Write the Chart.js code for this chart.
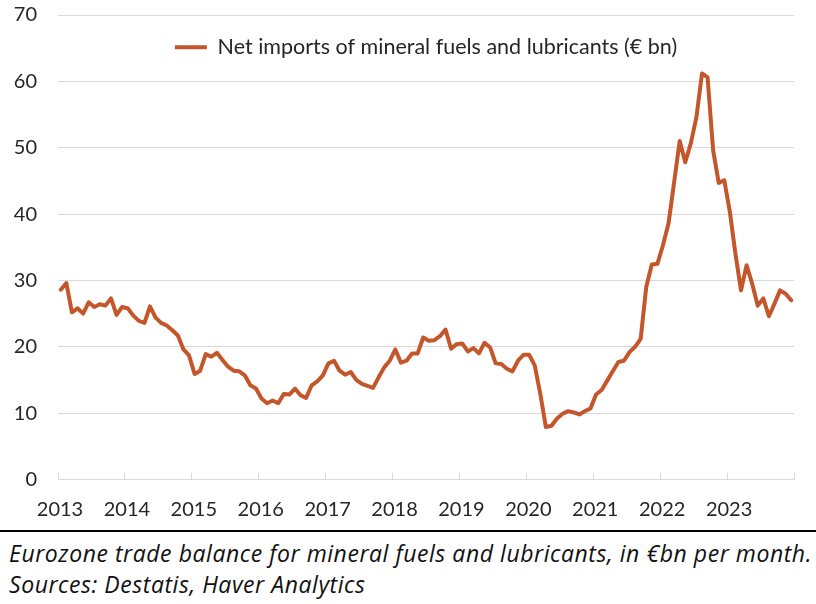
<!DOCTYPE html>
<html>
<head>
<meta charset="utf-8">
<script src="https://cdn.jsdelivr.net/npm/chart.js@4.4.1/dist/chart.umd.min.js"></script>
<style>
  html, body { margin: 0; padding: 0; background: #ffffff; }
  #wrap { position: relative; width: 816px; height: 604px; overflow: hidden; }
  #chart { position: absolute; left: 0; top: 0; }
  #rule { position: absolute; left: 0; top: 530px; width: 816px; height: 0; border-top: 2px solid #000; }
  .cap { position: absolute; left: 9px; font-family: "Open Sans", sans-serif; font-style: italic; font-size: 23px; letter-spacing: 0.55px; color: #111; white-space: nowrap; line-height: 1; }
</style>
</head>
<body>
<div id="wrap">
  <canvas id="chart" width="816" height="520"></canvas>
  <div id="rule"></div>
  <div class="cap" id="cap1" style="top:541.5px;">Eurozone trade balance for mineral fuels and lubricants, in €bn per month.</div>
  <div class="cap" id="cap2" style="top:572.5px;">Sources: Destatis, Haver Analytics</div>
</div>
<script>
// ---- Data ----
const seriesName = 'Net imports of mineral fuels and lubricants (€ bn)';
const yearLabels = ['2013','2014','2015','2016','2017','2018','2019','2020','2021','2022','2023'];
const values2013 = [28.6, 29.6, 25.2, 25.8, 25.0, 26.7, 26.0, 26.4, 26.2, 27.3, 24.8, 26.0];
const values2014 = [25.8, 24.7, 23.9, 23.6, 26.1, 24.4, 23.6, 23.2, 22.5, 21.7, 19.6, 18.7];
const values2015 = [15.9, 16.4, 18.9, 18.5, 19.1, 18.0, 17.0, 16.4, 16.3, 15.7, 14.2, 13.7];
const values2016 = [12.2, 11.5, 11.9, 11.5, 12.9, 12.8, 13.7, 12.7, 12.3, 14.2, 14.8, 15.7];
const values2017 = [17.5, 17.9, 16.4, 15.8, 16.2, 15.0, 14.4, 14.1, 13.8, 15.4, 16.9, 17.9];
const values2018 = [19.6, 17.6, 17.9, 19.0, 19.0, 21.4, 20.9, 21.0, 21.6, 22.6, 19.7, 20.4];
const values2019 = [20.5, 19.3, 19.8, 19.0, 20.6, 19.9, 17.5, 17.4, 16.7, 16.3, 17.9, 18.8];
const values2020 = [18.8, 17.2, 12.9, 7.9, 8.1, 9.2, 9.9, 10.3, 10.1, 9.8, 10.3, 10.7];
const values2021 = [12.8, 13.5, 14.9, 16.3, 17.7, 17.9, 19.2, 20.0, 21.2, 29.0, 32.4, 32.5];
const values2022 = [35.3, 38.6, 44.8, 51.0, 47.8, 50.7, 54.6, 61.2, 60.6, 49.6, 44.7, 45.1];
const values2023 = [40.3, 34.0, 28.5, 32.3, 29.5, 26.2, 27.3, 24.6, 26.5, 28.5, 28.0, 27.0];

const monthlyValues = [].concat(values2013, values2014, values2015, values2016, values2017,
  values2018, values2019, values2020, values2021, values2022, values2023);

// month index -> point centred within its month slot
const points = monthlyValues.map((v, i) => ({ x: i + 0.5, y: v }));

const FONT = 'Lato, "Open Sans", sans-serif';
const TEXT = '#262626';
const GRID = '#d9d9d9';
const LINE = '#C4562B';

// Legend sits inside the plot area: it takes no layout height,
// then its box is re-opened after layout so it is not clipped away.
const legendOverlay = {
  id: 'legendOverlay',
  beforeLayout(chart) {
    const lg = chart.legend;
    if (lg && !lg._overlayPatched) {
      const origFit = lg.fit.bind(lg);
      lg.fit = function () { origFit(); this._realHeight = this.height; this.height = 0; };
      lg._overlayPatched = true;
    }
  },
  afterLayout(chart) {
    const lg = chart.legend;
    if (lg && lg._realHeight) {
      lg.height = lg._realHeight;
      lg.bottom = lg.top + lg._realHeight;
    }
  }
};

new Chart(document.getElementById('chart'), {
  type: 'line',
  data: {
    datasets: [{
      label: seriesName,
      data: points,
      borderColor: LINE,
      backgroundColor: LINE,
      borderWidth: 4,
      pointRadius: 0,
      pointHoverRadius: 0,
      tension: 0,
      borderJoinStyle: 'round',
      borderCapStyle: 'round',
      fill: false
    }]
  },
  plugins: [legendOverlay],
  options: {
    responsive: false,
    animation: false,
    devicePixelRatio: 1,
    layout: { padding: { top: 15, right: 22, bottom: 0, left: 0 } },
    plugins: {
      tooltip: { enabled: false },
      legend: {
        display: true,
        position: 'top',
        align: 'center',
        fullSize: false,
        labels: {
          usePointStyle: true,
          pointStyle: 'line',
          pointStyleWidth: 32,
          padding: 21.5,
          color: TEXT,
          font: { family: FONT, size: 21.5 }
        }
      }
    },
    scales: {
      x: {
        type: 'linear',
        min: 0,
        max: yearLabels.length * 12,
        afterFit: (s) => { s.height = 40.5; s.paddingLeft = 0; s.paddingRight = 0; },
        afterBuildTicks: (s) => {
          s.ticks = [];
          for (let v = 0; v <= yearLabels.length * 12; v += 12) s.ticks.push({ value: v });
        },
        ticks: {
          autoSkip: false,
          maxRotation: 0,
          minRotation: 0,
          padding: 25,
          labelOffset: 2,
          color: TEXT,
          font: { family: FONT, size: 20 },
          callback: (v) => {
            const idx = Math.round(v / 12);
            return idx < yearLabels.length ? yearLabels[idx] : '';
          }
        },
        grid: {
          drawOnChartArea: false,
          drawTicks: true,
          tickLength: -7,
          color: GRID,
          lineWidth: 1
        },
        border: { display: true, color: GRID, width: 1 }
      },
      y: {
        min: 0,
        max: 70,
        afterFit: (s) => { s.width = 58; s.paddingTop = 0; s.paddingBottom = 0; },
        ticks: {
          stepSize: 10,
          padding: 21,
          color: TEXT,
          font: { family: FONT, size: 20 }
        },
        grid: { color: GRID, lineWidth: 1, drawTicks: false },
        border: { display: false }
      }
    }
  }
});
</script>
</body>
</html>
